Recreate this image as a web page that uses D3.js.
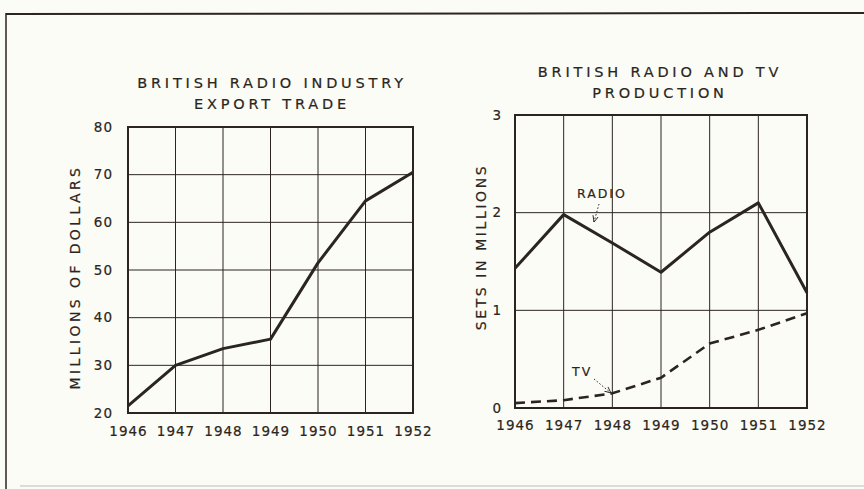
<!DOCTYPE html>
<html>
<head>
<meta charset="utf-8">
<script src="https://cdn.jsdelivr.net/npm/d3@7"></script>
<style>
  body { margin: 0; background: #fcfcf7; }
  svg text { font-family: "DejaVu Sans", sans-serif; fill: #2b2520; stroke: #2b2520; stroke-width: 0.2px; }
</style>
</head>
<body>
<div id="chart"></div>
<script>
// data
const years = [1946, 1947, 1948, 1949, 1950, 1951, 1952];
const exportValues = [21.5, 30, 33.5, 35.5, 51.5, 64.5, 70.5];   // millions of dollars
const radioValues = [1.43, 1.98, 1.69, 1.39, 1.80, 2.10, 1.18];  // sets in millions
const tvValues = [0.05, 0.08, 0.15, 0.31, 0.66, 0.80, 0.97];
const exportTicks = [20, 30, 40, 50, 60, 70, 80];
const setsTicks = [0, 1, 2, 3];

const width = 864, height = 489;
const ink = "#2b2520";

const svg = d3.select("#chart").append("svg")
  .attr("width", width)
  .attr("height", height);

// page frame (top rule + left rule)
svg.append("line").attr("x1", 6).attr("y1", 14).attr("x2", 864).attr("y2", 13)
  .attr("stroke", ink).attr("stroke-width", 2);
svg.append("line").attr("x1", 6).attr("y1", 13).attr("x2", 6).attr("y2", 489)
  .attr("stroke", ink).attr("stroke-width", 1.5);
svg.append("line").attr("x1", 20).attr("y1", 486).attr("x2", 864).attr("y2", 486)
  .attr("stroke", "#bbb").attr("stroke-width", 1);

function panel(opts) {
  const x = d3.scaleLinear().domain([years[0], years[years.length - 1]]).range([opts.left, opts.right]);
  const y = d3.scaleLinear().domain(d3.extent(opts.ticks)).range([opts.bottom, opts.top]);
  const g = svg.append("g");

  // grid
  g.append("g").selectAll("line.v").data(years).join("line")
    .attr("x1", d => x(d)).attr("x2", d => x(d))
    .attr("y1", opts.top).attr("y2", opts.bottom)
    .attr("stroke", ink).attr("stroke-width", 1);
  g.append("g").selectAll("line.h").data(opts.ticks).join("line")
    .attr("x1", opts.left).attr("x2", opts.right)
    .attr("y1", d => y(d)).attr("y2", d => y(d))
    .attr("stroke", ink).attr("stroke-width", 1);
  g.append("rect")
    .attr("x", opts.left).attr("y", opts.top)
    .attr("width", opts.right - opts.left).attr("height", opts.bottom - opts.top)
    .attr("fill", "none").attr("stroke", ink).attr("stroke-width", 2);

  // axes (labels only)
  const xAxis = g.append("g")
    .attr("transform", `translate(0,${opts.bottom})`)
    .call(d3.axisBottom(x).tickValues(years).tickFormat(d3.format("d")).tickSize(0).tickPadding(opts.xPad));
  const yAxis = g.append("g")
    .attr("transform", `translate(${opts.left},0)`)
    .call(d3.axisLeft(y).tickValues(opts.ticks).tickFormat(d3.format("d")).tickSize(0).tickPadding(opts.yPad));
  [xAxis, yAxis].forEach(a => {
    a.select(".domain").remove();
    a.selectAll("text").attr("font-size", 13.5).attr("letter-spacing", 1)
      .attr("font-family", "DejaVu Sans").attr("fill", ink);
  });

  // titles
  opts.title.forEach((t, i) => {
    g.append("text").attr("x", opts.titleX).attr("y", opts.titleY + i * 21)
      .attr("text-anchor", "middle").attr("font-size", 14.5).attr("letter-spacing", 3.8)
      .text(t);
  });
  g.append("text")
    .attr("transform", `translate(${opts.yLabelX},${opts.yLabelY}) rotate(-90)`)
    .attr("text-anchor", "middle").attr("font-size", 14).attr("letter-spacing", opts.yLabelSpacing)
    .text(opts.yLabel);

  return { g, x, y };
}

// left: export trade
const p1 = panel({
  left: 128, right: 413, top: 127, bottom: 413,
  ticks: exportTicks, xPad: 13, yPad: 15,
  title: ["BRITISH RADIO INDUSTRY", "EXPORT TRADE"], titleX: 272, titleY: 88,
  yLabel: "MILLIONS OF DOLLARS", yLabelX: 80, yLabelY: 277, yLabelSpacing: 3.4
});
p1.g.append("path").datum(exportValues)
  .attr("fill", "none").attr("stroke", ink).attr("stroke-width", 3).attr("stroke-linejoin", "round")
  .attr("d", d3.line().x((d, i) => p1.x(years[i])).y(d => p1.y(d)));

// right: radio and tv production
const p2 = panel({
  left: 515, right: 807, top: 115, bottom: 408,
  ticks: setsTicks, xPad: 12, yPad: 13,
  title: ["BRITISH RADIO AND TV", "PRODUCTION"], titleX: 660, titleY: 77,
  yLabel: "SETS IN MILLIONS", yLabelX: 486, yLabelY: 247, yLabelSpacing: 2.6
});
const line2 = d3.line().x((d, i) => p2.x(years[i])).y(d => p2.y(d));
p2.g.append("path").datum(radioValues)
  .attr("fill", "none").attr("stroke", ink).attr("stroke-width", 3).attr("stroke-linejoin", "round")
  .attr("d", line2);
p2.g.append("path").datum(tvValues)
  .attr("fill", "none").attr("stroke", ink).attr("stroke-width", 2.6)
  .attr("stroke-dasharray", "10,6")
  .attr("d", line2);

// callouts
svg.append("defs").append("marker")
  .attr("id", "arr").attr("viewBox", "0 0 10 10").attr("refX", 9).attr("refY", 5)
  .attr("markerWidth", 7).attr("markerHeight", 7).attr("orient", "auto")
  .append("path").attr("d", "M0,1 L9,5 L0,9").attr("fill", "none").attr("stroke", ink).attr("stroke-width", 1.3);

p2.g.append("text").attr("x", 577).attr("y", 198).attr("font-size", 12.5).attr("letter-spacing", 2).text("RADIO");
p2.g.append("line").attr("x1", 599).attr("y1", 204).attr("x2", 594).attr("y2", 222)
  .attr("stroke", ink).attr("stroke-width", 1).attr("stroke-dasharray", "1.5,2").attr("marker-end", "url(#arr)");

p2.g.append("text").attr("x", 572).attr("y", 376).attr("font-size", 12.5).attr("letter-spacing", 2).text("TV");
p2.g.append("line").attr("x1", 594).attr("y1", 379).attr("x2", 611).attr("y2", 393)
  .attr("stroke", ink).attr("stroke-width", 1).attr("stroke-dasharray", "1.5,2").attr("marker-end", "url(#arr)");
</script>
</body>
</html>
